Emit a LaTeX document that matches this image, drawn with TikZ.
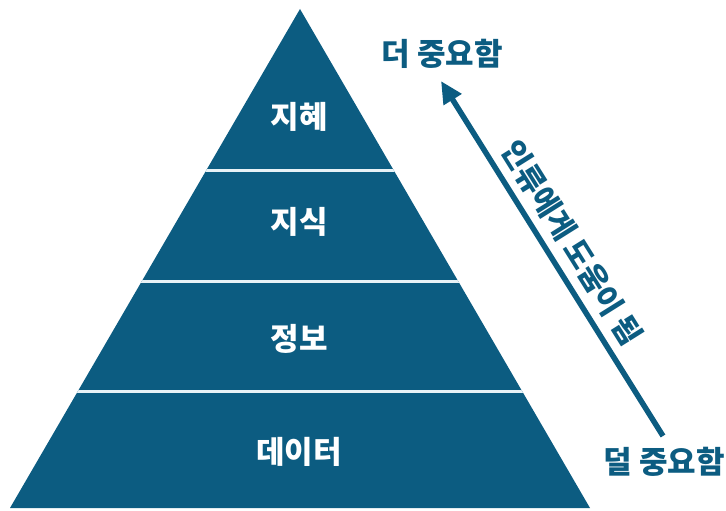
\documentclass[tikz,border=0pt]{standalone}
\usepackage{fontspec}
\newfontfamily\kr{Noto Sans CJK KR}
\usetikzlibrary{arrows.meta,calc}
\definecolor{pyr}{RGB}{12,92,129}
\definecolor{sep}{RGB}{232,242,246}
\tikzset{
  lvl/.style={text=white, font=\kr\bfseries\fontsize{31}{34}\selectfont, inner sep=0pt},
  side/.style={text=pyr, font=\kr\bfseries\fontsize{31}{34}\selectfont, inner sep=0pt},
  sepline/.style={draw=sep, line width=3pt},
  bigarrow/.style={draw=pyr, line width=5.5pt, -{Triangle[length=22pt,width=20pt]}}
}
\begin{document}
\begin{tikzpicture}[x=1pt,y=-1pt]
\useasboundingbox (0,0) rectangle (726,511);
\coordinate (apex) at (300,9);
\coordinate (bl) at (10,508);
\coordinate (br) at (590,508);
\fill[pyr] (apex) -- (bl) -- (br) -- cycle;
\begin{scope}
\clip (apex) -- (bl) -- (br) -- cycle;
\draw[sepline] (0,170.5) -- (726,170.5);
\draw[sepline] (0,281) -- (726,281);
\draw[sepline] (0,391.5) -- (726,391.5);
\end{scope}
\node[lvl] (l1) at (299,117) {지혜};
\node[lvl] (l2) at (299,222) {지식};
\node[lvl] (l3) at (299,339) {정보};
\node[lvl] (l4) at (299,452) {데이터};
\node[side] (more) at (442,54) {더 중요함};
\node[side] (less) at (664,462) {덜 중요함};
\coordinate (tail) at (663,436);
\coordinate (head) at (441,81);
\draw[bigarrow] (tail) -- (head);
\node[text=pyr, font=\kr\bfseries\fontsize{30}{34}\selectfont, inner sep=0pt, rotate=-57.9] (help) at (572,243) {인류에게 도움이 됨};
\end{tikzpicture}
\end{document}
